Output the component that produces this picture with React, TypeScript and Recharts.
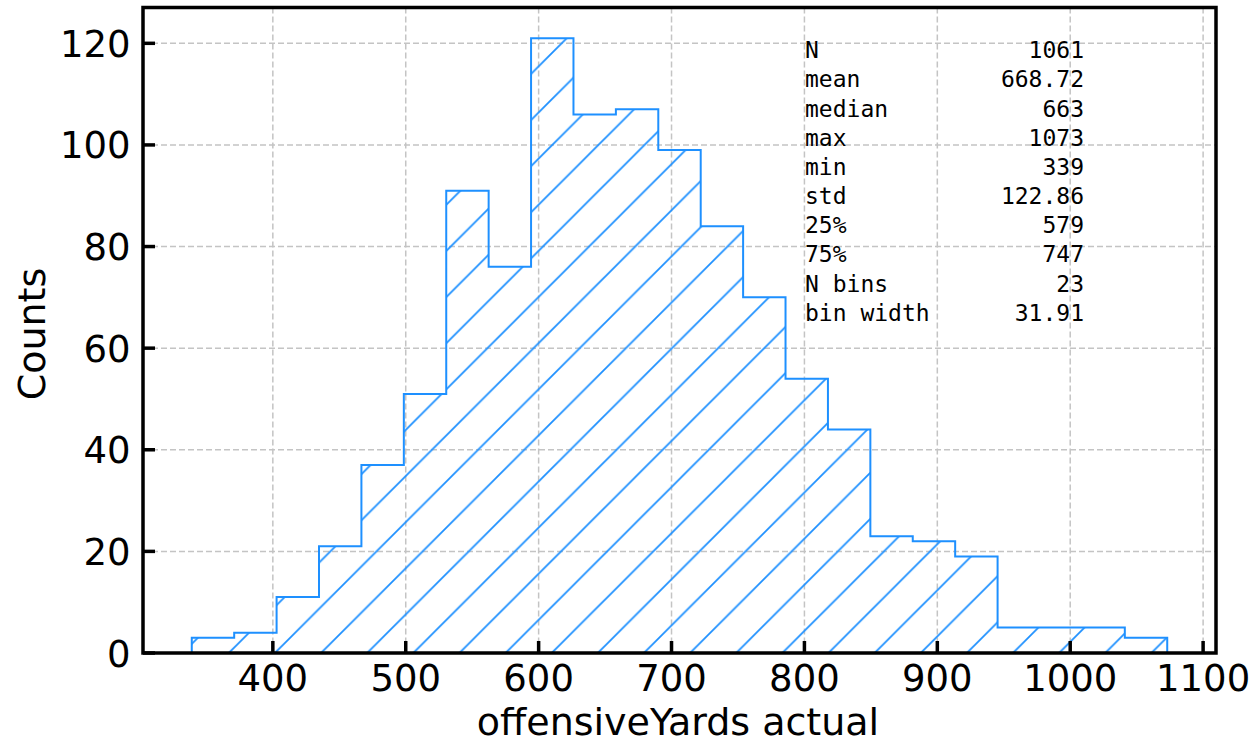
import { ComposedChart, Area, XAxis, YAxis, CartesianGrid, ReferenceArea } from 'recharts';

// histogram of offensiveYards, 23 bins between min and max
const binEdges = [
  339, 370.91, 402.83, 434.74, 466.65, 498.57, 530.48, 562.39, 594.3, 626.22, 658.13, 690.04,
  721.96, 753.87, 785.78, 817.7, 849.61, 881.52, 913.43, 945.35, 977.26, 1009.17, 1041.09, 1073,
];
const binCounts = [3, 4, 11, 21, 37, 51, 91, 76, 121, 106, 107, 99, 84, 70, 54, 44, 23, 22, 19, 5, 5, 5, 3];

const xTicks = [400, 500, 600, 700, 800, 900, 1000, 1100];
const yTicks = [0, 20, 40, 60, 80, 100, 120];
const xDomain = [302.3, 1109.7];
const yDomain = [0, 127.05];

const statNames = ['N', 'mean', 'median', 'max', 'min', 'std', '25%', '75%', 'N bins', 'bin width'];
const statValues = ['1061', '668.72', '663', '1073', '339', '122.86', '579', '747', '23', '31.91'];

const BLUE = '#1e90ff';
const SANS = 'DejaVu Sans, sans-serif';
const MONO = 'DejaVu Sans Mono, monospace';

// step outline: start at 0, then one point per bin edge, drop to 0 at the end
const stepData = [
  { x: binEdges[0], y: 0 },
  ...binEdges.map((e, i) => ({ x: e, y: i < binCounts.length ? binCounts[i] : 0 })),
];

const XTick = (props: any) => {
  const { x, y, payload } = props;
  return (
    <g>
      <line x1={x} y1={y} x2={x} y2={y - 12} stroke="#000" strokeWidth={3.5} />
      <text x={x} y={y + 37.5} textAnchor="middle" fontSize={37} fontFamily={SANS} fill="#000">
        {payload.value}
      </text>
    </g>
  );
};

const YTick = (props: any) => {
  const { x, y, payload } = props;
  return (
    <g>
      <line x1={x} y1={y} x2={x + 12} y2={y} stroke="#000" strokeWidth={3.5} />
      <text x={x - 12.5} y={y + 13.5} textAnchor="end" fontSize={37} fontFamily={SANS} fill="#000">
        {payload.value}
      </text>
    </g>
  );
};

export default function App() {
  return (
    <div style={{ position: 'absolute', left: 0, top: 0, background: '#fff' }}>
      <ComposedChart
        width={1257}
        height={745}
        data={stepData}
        margin={{ top: 7.5, right: 41, left: 0, bottom: 0 }}
      >
        <defs>
          <pattern id="hatch" patternUnits="userSpaceOnUse" x={5.3} y={0} width={46.13} height={46.13}>
            <path
              d="M-2,2 L2,-2 M0,46.13 L46.13,0 M44.13,48.13 L48.13,44.13"
              stroke={BLUE}
              strokeWidth={1.8}
            />
          </pattern>
        </defs>
        <CartesianGrid stroke="#c4c4c4" strokeWidth={1.5} strokeDasharray="6 3" />
        <XAxis
          type="number"
          dataKey="x"
          domain={xDomain}
          ticks={xTicks}
          interval={0}
          allowDataOverflow
          height={92}
          axisLine={false}
          tickLine={false}
          tickSize={0}
          tickMargin={0}
          tick={<XTick />}
        />
        <YAxis
          type="number"
          domain={yDomain}
          ticks={yTicks}
          interval={0}
          allowDataOverflow
          width={143}
          axisLine={false}
          tickLine={false}
          tickSize={0}
          tickMargin={0}
          tick={<YTick />}
        />
        <Area
          type="stepAfter"
          dataKey="y"
          stroke={BLUE}
          strokeWidth={2}
          fill="url(#hatch)"
          fillOpacity={1}
          dot={false}
          activeDot={false}
          isAnimationActive={false}
        />
        <ReferenceArea
          x1={xDomain[0]}
          x2={xDomain[1]}
          y1={yDomain[0]}
          y2={yDomain[1]}
          fill="none"
          fillOpacity={0}
          stroke="#000"
          strokeWidth={3.5}
          ifOverflow="visible"
        />
        {statNames.map((name, i) => (
          <text key={name} x={805} y={58.3 + i * 29.16} fontSize={23} fontFamily={MONO} fill="#000">
            {name}
          </text>
        ))}
        {statValues.map((v, i) => (
          <text key={'v' + i} x={1084} y={58.3 + i * 29.16} fontSize={23} fontFamily={MONO} textAnchor="end" fill="#000">
            {v}
          </text>
        ))}
        <text x={678} y={735} textAnchor="middle" fontSize={38} fontFamily={SANS} fill="#000">
          offensiveYards actual
        </text>
        <text x={45} y={334} transform="rotate(-90, 45, 334)" textAnchor="middle" fontSize={38} fontFamily={SANS} fill="#000">
          Counts
        </text>
      </ComposedChart>
    </div>
  );
}
